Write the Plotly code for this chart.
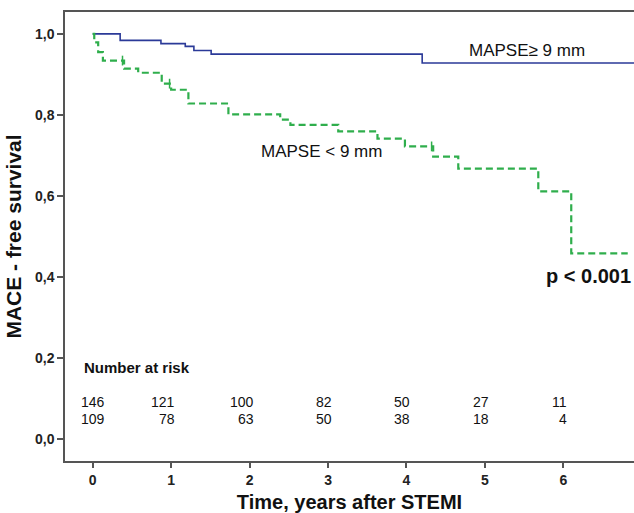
import numpy as np
import plotly.graph_objects as go

# ---- data ----
blue_t = [0.0, 0.35, 0.87, 1.18, 1.29, 1.51, 4.20, 6.90]
blue_s = [1.000, 0.984, 0.976, 0.969, 0.959, 0.950, 0.928, 0.928]

green_t = [0.0, 0.02, 0.07, 0.13, 0.40, 0.58, 0.88, 1.00, 1.22, 1.73, 2.39, 2.52,
           3.13, 3.63, 3.98, 4.34, 4.66, 5.68, 6.10, 6.82]
green_s = [1.000, 0.979, 0.955, 0.934, 0.914, 0.904, 0.877, 0.862, 0.828, 0.801,
           0.788, 0.775, 0.759, 0.741, 0.722, 0.697, 0.667, 0.611, 0.458, 0.458]

green_censor_t = [0.38, 0.98, 4.32]

risk_times = [0, 1, 2, 3, 4, 5, 6]
risk_high = [146, 121, 100, 82, 50, 27, 11]
risk_low = [109, 78, 63, 50, 38, 18, 4]

y_ticks = [0.0, 0.2, 0.4, 0.6, 0.8, 1.0]
y_ticklabels = ["0,0", "0,2", "0,4", "0,6", "0,8", "1,0"]
x_ticks = [0, 1, 2, 3, 4, 5, 6]

BLUE = "#2b3a98"
GREEN = "#2fae4c"
AX = "#555555"
NARROW = "Liberation Sans Narrow, Arial Narrow, Liberation Sans, Arial, sans-serif"
SANS = "Liberation Sans, Arial, sans-serif"


def step_value(ts, ss, t):
    idx = np.searchsorted(np.array(ts), t, side="right") - 1
    return ss[max(idx, 0)]


fig = go.Figure()
fig.add_trace(go.Scatter(x=blue_t, y=blue_s, mode="lines", line_shape="hv",
                         line=dict(color=BLUE, width=1.6), showlegend=False,
                         hoverinfo="skip"))
fig.add_trace(go.Scatter(x=green_t, y=green_s, mode="lines", line_shape="hv",
                         line=dict(color=GREEN, width=2.2, dash="7px,4px"),
                         showlegend=False, hoverinfo="skip"))
fig.add_trace(go.Scatter(x=green_censor_t,
                         y=[step_value(green_t, green_s, t) for t in green_censor_t],
                         mode="markers",
                         marker=dict(symbol="line-ns", size=7,
                                     line=dict(color=GREEN, width=1.5)),
                         showlegend=False, hoverinfo="skip"))

annotations = []
annotations.append(dict(x=5.54, y=0.959, text="MAPSE≥ 9 mm", showarrow=False,
                        font=dict(family=SANS, size=17, color="#111")))
annotations.append(dict(x=2.92, y=0.709, text="MAPSE < 9 mm", showarrow=False,
                        font=dict(family=SANS, size=17, color="#111")))
annotations.append(dict(x=6.32, y=0.403, text="<b>p < 0.001</b>", showarrow=False,
                        font=dict(family=SANS, size=20, color="#111")))
annotations.append(dict(x=-0.135, y=0.176, text="<b>Number at risk</b>", showarrow=False,
                        xanchor="left", font=dict(family=SANS, size=15, color="#111")))
for i, t in enumerate(risk_times):
    shift = 14 if i == 0 else 6
    annotations.append(dict(x=t, y=0.090, text=str(risk_high[i]), showarrow=False,
                            xanchor="right", xshift=shift,
                            font=dict(family=SANS, size=14, color="#111")))
    annotations.append(dict(x=t, y=0.048, text=str(risk_low[i]), showarrow=False,
                            xanchor="right", xshift=shift,
                            font=dict(family=SANS, size=14, color="#111")))

fig.update_layout(
    width=634, height=513,
    margin=dict(l=65, r=0, t=12, b=52),
    paper_bgcolor="white", plot_bgcolor="white",
    annotations=annotations,
    xaxis=dict(range=[-0.353, 6.90], tickvals=x_ticks, showgrid=False, zeroline=False,
               showline=True, linecolor=AX, linewidth=1.5, mirror=True,
               ticks="outside", ticklen=5, tickcolor=AX, tickwidth=1.5,
               tickfont=dict(family=NARROW, size=14, color="#222", weight="bold"),
               title=dict(text="<b>Time, years after STEMI</b>", standoff=10,
                          font=dict(family=SANS, size=20, color="#111"))),
    yaxis=dict(range=[-0.055, 1.054], tickvals=y_ticks, ticktext=y_ticklabels,
               showgrid=False, zeroline=False,
               showline=True, linecolor=AX, linewidth=1.5,
               ticks="outside", ticklen=6, tickcolor=AX, tickwidth=1.5,
               tickfont=dict(family=NARROW, size=14, color="#222", weight="bold"),
               title=dict(text="<b>MACE - free survival</b>", standoff=8,
                          font=dict(family=SANS, size=21, color="#111"))),
)

fig.write_html("out.html", config={"displayModeBar": False},
               post_script="document.body.style.margin='0';")
